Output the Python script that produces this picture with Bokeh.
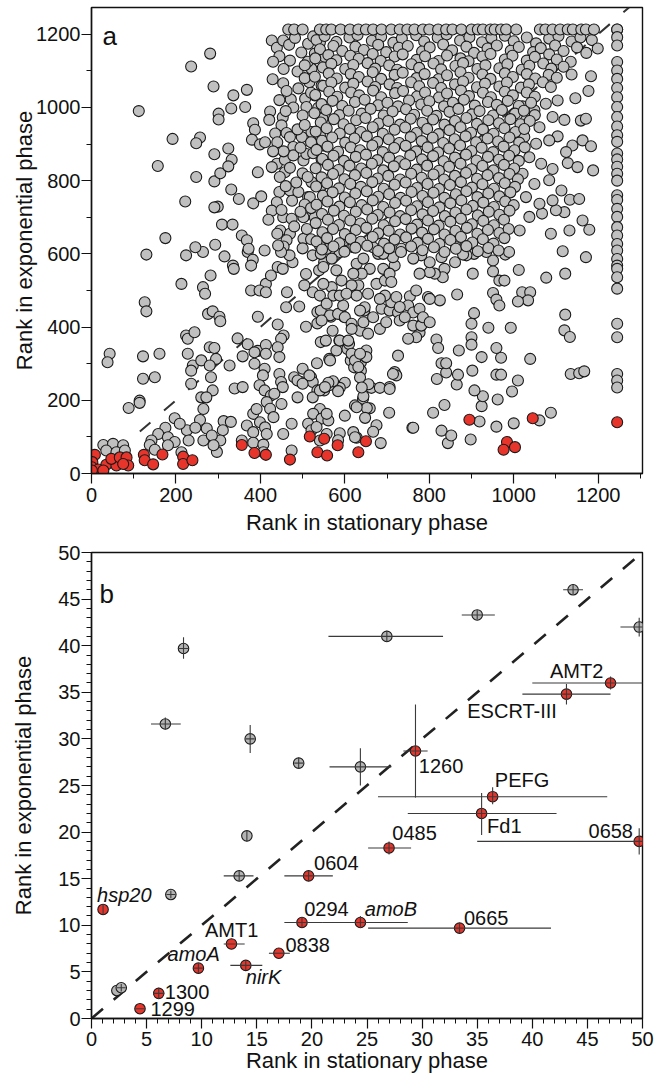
from bokeh.plotting import figure
from bokeh.layouts import column
from bokeh.models import FixedTicker, Range1d, Label, Slope
from bokeh.embed import file_html
from bokeh.resources import INLINE
from bokeh.core.properties import value

FONT = "Liberation Sans"
GRAY = "#c0c0c0"
RED = "#e8352b"
EDGE = "#1a1a1a"

# ---------------- Panel a data (rank in stationary phase, rank in exponential phase) ----------------
a_upper_left = [(112,990),(157,840),(192,914),(222,743),(175,643),(236,1112),(281,1147),(289,1057),(301,983),(301,967),
    (248,810),(257,918),(248,902),(291,872),(291,798),(305,820),(324,888),(332,857),(324,839),(331,776),(349,750),
    (299,729),(291,727),(309,680),(334,680),(336,1033),(331,997),(364,1001),(368,1048),(383,957),(387,939),(380,912),
    (399,899),(411,905),(394,823),(383,738),(402,757),(356,650),(368,637),(427,1183),(439,1163),(454,1183),(468,1171),
    (429,1077),(454,1066),(472,1022),(423,989),(421,966),(453,973),(450,951),(435,929),(462,930),(470,919),(498,919),
    (439,846),(458,857),(458,823),(427,837),(478,892),(478,869),(502,855),(445,769),(470,773),(490,769),(513,755),
    (439,741),(427,718),(419,693),(447,664),(470,655),(462,637),(502,641),(454,700),(474,696),(502,700),(529,700),
    (482,1190),(513,1174),(525,1194),(541,1178),(529,1147),(553,1138),(521,1106),(516,1069),(545,1060),(506,1024),
    (529,1033),(509,1001),(537,999),(547,969),(521,933),(541,924),(549,896),(509,873),(525,875),(545,858),(521,796),
    (545,787),(517,755)]

a_left_band = [(445,1140),(470,1128),(497,1150),(512,1125),(455,1105),(488,1098),(505,1080),(462,1045),(490,1052),
    (478,1000),(500,978),(460,990),(440,905),(488,940),(505,952),(455,880),(495,890),(520,905),(470,835),(500,820),
    (446,810),(485,795),(512,810),(460,785),(505,735),(475,745),(450,720),(495,715),(520,725),(480,675),(510,668),
    (440,655),(500,615),(455,620),(520,640),(430,1125),(445,1020),(430,880),(505,1115),(520,1040)]

a_mid_left = [(130,598),(224,596),(264,605),(315,593),(335,568),(337,559),(370,605),(382,584),(378,568),(410,609),
    (441,564),(453,559),(476,577),(469,596),(449,605),(508,545),(524,596),(539,555),(551,577),(543,600),(282,541),
    (213,518),(264,509),(269,491),(413,518),(425,541),(378,500),(398,500),(413,495),(463,495),(504,514),(524,495),
    (126,468),(130,443),(276,436),(287,443),(303,428),(305,416),(394,428),(461,454),(492,456),(535,441),(543,445),
    (567,428),(598,428),(508,401),(535,410),(571,390),(441,407),(455,377),(449,368),(224,377),(228,368),(244,386),
    (346,369),(370,353),(394,335),(413,351),(441,345),(445,318),(543,359),(555,363),(587,363),(606,340),(610,354),
    (636,390),(646,445),(43,327),(38,304),(122,320),(161,327),(228,327),(240,295),(260,309),(280,345),(291,343),
    (295,313),(280,295),(327,295),(358,320),(386,331),(413,327),(386,300),(410,286),(406,268),(445,272),(449,250),
    (453,236),(500,286),(520,263),(524,250),(496,250),(534,301),(563,313),(551,227),(535,227),(563,241),(614,309),
    (622,290),(638,304),(650,318),(638,281),(236,281),(283,263),(236,245),(287,227),(122,259),(150,263),(114,199),
    (260,208),(272,208),(339,232),(358,236),(398,241),(410,227),(425,213),(433,218),(480,263),(488,254),(516,268),
    (488,208),(500,245),(524,208),(246,618),(293,625),(372,614),(442,623)]

a_low_left = [(265,176),(257,146),(273,123),(265,90),(313,143),(330,141),(311,118),(305,90),(297,59),(285,104),
    (289,77),(226,118),(246,125),(230,90),(383,163),(399,140),(391,176),(368,131),(383,113),(356,90),(383,84),
    (407,79),(407,58),(411,126),(415,195),(423,177),(431,154),(450,190),(474,136),(474,63),(541,176),(525,163),
    (545,150),(513,136),(521,118),(533,127),(541,90),(415,108),(454,108),
    (88,179),(114,193),(197,151),(209,136),(175,125),(158,108),(142,90),(181,99),(197,86),(181,77),(138,78),
    (150,65),(213,58),(28,78),(51,81),(75,77),(35,63),(59,58),(79,63),
    (760,125),(628,98),(600,158),(624,186),(643,204)]

a_low_right = [(1116,607),(1171,591),(1077,535),(1122,546),(1122,434),(1120,391),(1133,373),(1039,313),(1135,272),
    (1155,274),(1167,279),(1010,254),(996,224),(1088,166),(1061,145),(1000,137),(959,128),(898,93),(919,142),(962,202),
    (924,184),(927,211),(907,227),(902,281),(959,270),(970,270),(970,316),(959,343),(993,398),(940,398),(924,318),
    (900,372),(900,352),(870,336),(865,243),(868,270),(840,276),(829,301),(840,301),(818,258),(836,187),(809,166),
    (829,117),(844,83),(852,104),(762,125),(817,366),(821,343),(866,489),(900,409),(906,438),(951,493),(959,475),
    (966,459),(966,527),(978,527),(980,598),(989,605),(1012,556),(1020,495),(1039,495),(1034,473),(1010,470),(951,582),
    (935,605),(951,552),(903,546),(906,600),(888,596),(861,577),(864,618),(880,598),(836,559),(832,536),(813,546),
    (797,482),(825,473),(781,406),(777,385),(769,372),(750,368),(726,322),(718,277),(706,236),(722,268),(705,166),
    (685,83),(675,132),(667,114),(659,178),(644,211),(652,179),(648,152),(628,181),(644,241),(663,234),(620,113),
    (624,99),(588,110),(557,108),(584,91),(561,145),(557,163),(683,234),(706,231),(714,272),(636,262),(656,244),
    (640,235),(600,248),(588,234),(572,252),(584,225),(561,248),(541,227),(553,236),(565,309),(580,336),(588,363),
    (608,363),(616,327),(624,309),(632,291),(651,336),(651,318),(636,327),(565,432),(545,418),(584,436),(596,459),
    (600,427),(616,409),(616,395),(647,454),(636,445),(644,413),(667,427),(655,382),(683,395),(698,413),(687,450),
    (706,445),(726,440),(710,468),(722,482),(695,486),(683,477),(754,484),(750,459),(762,440),(730,418),(762,404),
    (781,404),(777,450),(785,427),(801,413),(769,500),(730,455),(742,427),(801,477),(801,550),(801,577),(829,591),
    (777,546),(781,596),(762,587),(718,568),(734,614),(714,591),(706,623),(679,600),(667,618),(691,559),(659,559),
    (640,546),(628,573),(644,587),(620,618),(600,637),(588,605),(569,587),(557,614),(541,623),(549,564),(580,555),
    (592,527),(569,509),(541,486),(557,464),(549,518),(573,486),(620,546),(632,514),(616,514),(588,486),(604,491),
    (655,491),(628,486),(675,518),(695,527),(706,546),(691,600),(710,523)]

a_upper_right = [(1137,1090),(1183,1085),(1177,1045),(1146,1025),(1104,1019),(1120,966),(1159,964),(1171,969),
    (1104,921),(1139,896),(1163,910),(1183,894),(1124,878),(1128,848),(1092,832),(1151,837),(1188,828),(1113,773),
    (1133,748),(1155,750),(1120,714),(1100,719),(1132,664),(1163,691),(1179,666),(1067,710),(1088,655),
    (1021,1003),(1049,992),(1076,1010),(1029,965),(1061,946),(1092,974),(1025,919),(1053,901),(1084,910),(1037,864),
    (1065,846),(1021,819),(1049,791),(1084,801),(1029,755),(1061,737),(1092,746),(1037,701),(1014,664)]

# dense block, read row by row (x values, y values)
a_dense_rows = [
    ([533,552,580,611,630,664,686,715,735,769,788,820,841,873,895,925,947,979,1000,1031,1053,1084,1106,1137,1158,1185],
     [1184,1195,1179,1191,1198,1182,1193,1177,1189,1197,1180,1191,1199,1183,1192,1178,1190,1196,1181,1191,1175,1188,1195,1180,1191,1184]),
    ([541,573,594,625,645,679,698,728,749,783,801,833,854,888,906,938,960,993,1012,1046,1064,1098,1118,1150,1172,1199],
     [1159,1168,1154,1166,1157,1171,1151,1163,1168,1153,1164,1172,1156,1166,1149,1161,1169,1155,1165,1151,1162,1169,1154,1164,1149,1161]),
    ([530,561,580,613,633,666,685,718,737,770,790,822,842,874,893,926,945,979,997,1031,1050,1084,1102,1135],
     [1134,1143,1129,1141,1133,1146,1127,1139,1145,1130,1140,1127,1142,1134,1126,1139,1146,1131,1141,1128,1138,1145,1131,1125]),
    ([548,568,601,620,654,672,705,724,758,776,810,828,862,880,914,933,966,985,1019,1037,1070,1089,1118],
     [1109,1119,1105,1116,1121,1106,1115,1103,1118,1108,1120,1104,1113,1121,1105,1115,1107,1118,1103,1114,1120,1106,1111]),
    ([529,562,581,614,633,666,686,718,737,770,789,822,842,874,893,926,945,979,998,1031,1051,1083,1102],
     [1084,1093,1079,1091,1083,1096,1078,1089,1095,1080,1091,1077,1088,1096,1081,1090,1078,1093,1083,1091,1079,1089,1081]),
    ([549,568,601,620,654,672,706,724,757,776,809,828,861,880,913,932,966,984,1017,1036,1069,1088],
     [1059,1068,1054,1065,1071,1056,1063,1053,1069,1058,1067,1053,1063,1071,1055,1065,1057,1068,1054,1063,1069,1056]),
    ([530,563,582,615,634,667,686,719,738,771,790,823,842,875,894,927,946,979,998,1031,1050],
     [1034,1043,1029,1041,1033,1046,1028,1039,1045,1030,1041,1027,1038,1046,1031,1040,1028,1043,1033,1041,1029]),
    ([545,571,594,624,647,679,701,726,752,781,800,835,856,882,908,939,960,986,1012,1041],
     [1009,1018,1004,1015,1021,1006,1013,1003,1019,1008,1017,1003,1013,1021,1005,1015,1007,1018,1004,1013]),
    ([528,556,587,609,640,661,692,713,745,764,795,817,848,869,901,919,951,972,1003,1024,1050],
     [984,993,979,991,983,996,978,989,995,980,991,977,988,996,981,990,978,993,983,991,979]),
    ([543,574,597,627,649,680,703,731,756,784,809,836,861,888,913,940,965,992,1016,1038],
     [959,968,954,965,971,956,963,953,969,958,967,953,963,971,955,965,957,968,954,963]),
    ([531,557,588,612,638,666,690,718,743,770,795,822,848,874,899,927,952,978,1004,1025],
     [934,943,929,941,933,946,928,939,945,930,941,927,938,946,931,940,928,943,933,941]),
    ([546,570,601,623,652,677,704,729,756,782,808,833,860,886,911,938,963,990,1013],
     [909,918,904,915,921,906,913,903,919,908,917,903,913,921,905,915,907,918,904]),
    ([533,559,584,614,636,665,690,717,744,769,796,821,847,873,900,924,951,976,1002,1026],
     [884,893,879,891,883,896,878,889,895,880,891,877,888,896,881,890,878,893,883,891]),
    ([547,573,598,626,650,677,705,730,755,783,809,834,861,887,912,939,965,989,1012],
     [859,868,854,865,871,856,863,853,869,858,867,853,863,871,855,865,857,868,854]),
    ([531,560,585,611,639,664,691,716,743,770,795,823,847,874,900,926,952,977,1001],
     [834,843,829,841,833,846,828,839,845,830,841,827,838,846,831,840,828,843,833]),
    ([545,572,599,624,651,678,703,731,757,782,810,835,861,887,913,938,965,990,1010],
     [809,818,804,815,821,806,813,803,819,808,817,803,813,821,805,815,807,818,804]),
    ([532,558,586,613,638,665,692,718,744,771,796,823,849,875,901,926,953,979,1003],
     [784,793,779,791,783,796,778,789,795,780,791,777,788,796,781,790,778,793,783]),
    ([548,571,600,625,652,679,705,732,758,784,810,836,863,888,914,940,966,992],
     [759,768,754,765,771,756,763,753,769,758,767,753,763,771,755,765,757,768]),
    ([533,559,587,612,640,666,691,719,745,771,797,824,850,876,903,928,953,980,1000],
     [734,743,729,741,733,746,728,739,745,730,741,727,738,746,731,740,728,743,733]),
    ([546,574,598,626,653,678,706,731,757,784,809,837,862,888,915,941,966,990],
     [709,718,704,715,721,706,713,703,719,708,717,703,713,721,705,715,707,718]),
    ([531,560,586,613,637,665,692,719,744,771,797,822,850,875,901,928,953,977],
     [684,693,679,691,683,696,678,689,695,680,691,677,688,696,681,690,678,693]),
    ([547,572,600,626,651,679,704,731,758,783,811,836,862,889,914,939,966,988],
     [659,668,654,665,671,656,663,653,669,658,667,653,663,671,655,665,657,668]),
    ([533,558,587,614,638,666,693,718,745,772,797,824,850,875,902,927,952,978],
     [634,643,629,641,633,646,628,639,645,630,641,627,638,646,631,640,628,643]),
    ([546,573,599,625,653,679,705,733,757,784,811,836,863,888,915,940,964],
     [612,620,606,617,622,608,615,605,620,610,618,605,614,621,607,616,609]),
]

# tied ranks: genes at the maximum rank in one of the two phases
a_top_tie = 1213
a_top_row_x = [466,480,500,541,556,568,590,612,632,650,667,687,710,730,748,765,785,800,821,840,855,876,900,915,
               927,945,955,970,982,1006,1062,1075,1092,1110,1128,1140,1160,1171,1190,1245]
a_col_tie = 1245
a_col_y = [1213,1192,1169,1124,1101,1078,1053,1028,1001,974,948,924,906,874,858,838,819,800,
           760,747,723,701,673,650,627,609,586,568,559,536,505,409,372,272,254,235]

a_red = [(8,51),(2,31),(35,24),(59,22),(47,40),(67,44),(83,44),(87,22),(1,17),(16,11),(1,8),(28,8),(75,26),
    (124,51),(126,36),(146,25),(168,52),(217,46),(217,26),(239,36),
    (356,78),(386,56),(413,51),(470,38),(517,101),(551,95),(583,77),(535,58),(558,49),(632,58),(650,88),
    (895,147),(1045,151),(1245,140),(984,86),(1003,72),(976,65)]

# ---------------- Panel b data ----------------
b_gray_x   = [8.35, 6.7, 14.4, 18.8, 43.7, 35.0, 26.8, 49.7, 24.4, 14.1, 13.4, 7.2, 2.3, 2.7]
b_gray_y   = [39.7, 31.6, 30.0, 27.4, 46.0, 43.3, 41.0, 42.0, 27.0, 19.6, 15.3, 13.3, 3.0, 3.3]
b_gray_xlo = [7.9, 5.4, 14.0, 18.4, 42.8, 33.6, 21.5, 48.0, 21.6, 14.1, 12.0, 6.8, 2.3, 2.3]
b_gray_xhi = [8.8, 8.1, 14.8, 19.2, 44.6, 36.6, 31.9, 51.0, 27.2, 14.1, 14.7, 7.6, 2.3, 3.1]
b_gray_ylo = [38.6, 31.0, 28.5, 26.8, 45.5, 42.8, 40.4, 41.0, 25.0, 19.0, 14.8, 12.9, 3.0, 2.9]
b_gray_yhi = [40.9, 32.3, 31.5, 28.0, 46.5, 43.8, 41.6, 43.0, 29.0, 20.2, 15.8, 13.7, 3.0, 3.7]

b_red_name = ["hsp20", "1299", "1300", "amoA", "AMT1", "nirK", "0838", "0294", "0604", "amoB",
              "0485", "1260", "0665", "Fd1", "PEFG", "ESCRT-III", "AMT2", "0658"]
b_red_x   = [1.05, 4.4, 6.1, 9.7, 12.7, 14.0, 17.0, 19.1, 19.7, 24.4, 27.0, 29.4, 33.4, 35.4, 36.4, 43.1, 47.1, 49.7]
b_red_y   = [11.7, 1.05, 2.7, 5.4, 8.0, 5.7, 7.0, 10.3, 15.3, 10.3, 18.3, 28.7, 9.7, 22.0, 23.8, 34.8, 36.0, 19.0]
b_red_xlo = [1.05, 4.0, 5.6, 9.3, 12.0, 12.6, 16.1, 17.5, 17.5, 21.0, 25.1, 28.3, 25.1, 28.7, 26.0, 39.1, 40.0, 35.0]
b_red_xhi = [1.05, 4.8, 6.6, 10.1, 13.9, 15.5, 18.0, 21.0, 21.9, 28.7, 29.0, 30.5, 41.7, 42.2, 46.8, 47.1, 52.0, 51.0]
b_red_ylo = [11.2, 1.05, 2.1, 4.9, 8.0, 5.2, 7.0, 9.8, 14.8, 9.7, 17.6, 23.7, 9.2, 19.7, 23.0, 33.7, 35.3, 17.6]
b_red_yhi = [12.2, 1.05, 3.3, 5.9, 8.0, 6.2, 7.0, 10.8, 15.8, 11.0, 19.0, 33.7, 10.2, 24.2, 24.8, 35.9, 36.7, 20.4]
b_red_italic = [True, False, False, True, False, True, False, False, False, True,
                False, False, False, False, False, False, False, False]
# label anchor (left edge, vertical middle) for each red gene
b_lab_x = [0.5, 5.35, 6.65, 6.9, 10.3, 14.0, 17.6, 19.3, 20.2, 24.8, 27.3, 29.7, 33.8, 35.9, 36.6, 34.1, 41.6, 45.1]
b_lab_y = [13.3, 1.05, 2.8, 6.9, 9.5, 4.4, 7.9, 11.8, 16.7, 11.8, 19.9, 27.1, 10.8, 20.7, 25.6, 33.0, 37.3, 20.1]

# ---------------- build panel a ----------------
gx, gy = [], []
for grp in (a_upper_left, a_left_band, a_mid_left, a_low_left, a_low_right, a_upper_right):
    for x, y in grp:
        gx.append(x); gy.append(y)
for xs, ys in a_dense_rows:
    for x, y in zip(xs, ys):
        gx.append(x); gy.append(y)
for x in a_top_row_x:
    gx.append(x); gy.append(a_top_tie)
for y in a_col_y:
    gx.append(a_col_tie); gy.append(y)
rx = [p[0] for p in a_red]
ry = [p[1] for p in a_red]


def style_axes(p, xt, xm, yt, ym):
    p.xaxis.ticker = FixedTicker(ticks=xt, minor_ticks=xm)
    p.yaxis.ticker = FixedTicker(ticks=yt, minor_ticks=ym)
    p.xgrid.visible = False
    p.ygrid.visible = False
    p.outline_line_color = "#111111"
    p.outline_line_width = 1.4
    p.outline_line_alpha = 1
    p.background_fill_color = "white"
    p.border_fill_color = "white"
    for ax in p.axis:
        ax.axis_line_color = "#111111"
        ax.axis_line_width = 1.4
        ax.major_tick_line_color = "#111111"
        ax.minor_tick_line_color = "#111111"
        ax.major_tick_line_width = 1.2
        ax.minor_tick_line_width = 1.0
        ax.major_tick_out = 10
        ax.major_tick_in = 0
        ax.minor_tick_out = 5
        ax.minor_tick_in = 0
        ax.major_label_text_font = FONT
        ax.major_label_text_font_size = "20px"
        ax.major_label_text_color = "#111111"
        ax.major_label_standoff = 1
        ax.axis_label_text_font = FONT
        ax.axis_label_text_font_size = "22px"
        ax.axis_label_text_font_style = "normal"
        ax.axis_label_text_color = "#111111"


p1 = figure(width=655, height=543, x_range=Range1d(0, 1305), y_range=Range1d(0, 1273),
            min_border_left=91, min_border_right=12, min_border_top=7, min_border_bottom=70,
            output_backend="svg", toolbar_location=None)
style_axes(p1, list(range(0, 1201, 200)), list(range(100, 1301, 200)),
           list(range(0, 1201, 200)), list(range(100, 1201, 200)))
p1.xaxis.axis_label = "Rank in stationary phase"
p1.yaxis.axis_label = "Rank in exponential phase"
p1.xaxis.major_label_standoff = 4
p1.xaxis.axis_label_standoff = 5
p1.yaxis.axis_label_standoff = -4
p1.add_layout(Slope(gradient=1, y_intercept=0, line_color="#333333", line_width=2,
                    line_dash="14 18", level="underlay"))
p1.scatter(gx, gy, size=11, fill_color=GRAY, line_color=EDGE, line_width=1.1)
p1.scatter(rx, ry, size=11, fill_color=RED, line_color=EDGE, line_width=1.1)
p1.add_layout(Label(x=26, y=1195, text="a", text_font=FONT, text_font_size="26px",
                    text_color="#111111", text_baseline="alphabetic"))

# ---------------- build panel b ----------------
p2 = figure(width=655, height=532, x_range=Range1d(0, 50), y_range=Range1d(0, 50),
            min_border_left=91, min_border_right=13, min_border_top=9, min_border_bottom=57,
            output_backend="svg", toolbar_location=None)
style_axes(p2, list(range(0, 51, 5)), [v for v in range(0, 51) if v % 5],
           list(range(0, 51, 5)), [v for v in range(0, 51) if v % 5])
p2.xaxis.axis_label = "Rank in stationary phase"
p2.yaxis.axis_label = "Rank in exponential phase"
p2.xaxis.major_label_standoff = 3
p2.xaxis.axis_label_standoff = -1
p2.yaxis.axis_label_standoff = 19
p2.add_layout(Slope(gradient=1, y_intercept=0, line_color="#222222", line_width=2.6,
                    line_dash="15 14", level="underlay"))
p2.scatter(b_gray_x, b_gray_y, size=10.5, fill_color="#b4b4b4", line_color=EDGE, line_width=1.1)
p2.scatter(b_red_x, b_red_y, size=10.5, fill_color=RED, line_color=EDGE, line_width=1.1)
ERR = "#3a3a3a"
p2.segment(b_gray_xlo, b_gray_y, b_gray_xhi, b_gray_y, line_color=ERR, line_width=1.1)
p2.segment(b_gray_x, b_gray_ylo, b_gray_x, b_gray_yhi, line_color=ERR, line_width=1.1)
p2.segment(b_red_xlo, b_red_y, b_red_xhi, b_red_y, line_color=ERR, line_width=1.1)
p2.segment(b_red_x, b_red_ylo, b_red_x, b_red_yhi, line_color=ERR, line_width=1.1)

nx = [x for x, it in zip(b_lab_x, b_red_italic) if not it]
ny = [y for y, it in zip(b_lab_y, b_red_italic) if not it]
nt = [t for t, it in zip(b_red_name, b_red_italic) if not it]
ix = [x for x, it in zip(b_lab_x, b_red_italic) if it]
iy = [y for y, it in zip(b_lab_y, b_red_italic) if it]
itx = [t for t, it in zip(b_red_name, b_red_italic) if it]
p2.text(nx, ny, text=nt, text_font=value(FONT), text_font_size=value("20px"),
        text_align="left", text_baseline="middle", text_color="#111111")
p2.text(ix, iy, text=itx, text_font=value(FONT), text_font_size=value("20px"),
        text_font_style="italic", text_align="left", text_baseline="middle", text_color="#111111")
p2.add_layout(Label(x=0.73, y=45.6, text="b", text_font=FONT, text_font_size="26px",
                    text_color="#111111", text_baseline="alphabetic"))

layout = column(p1, p2)
open("out.html", "w").write(file_html(layout, INLINE))
